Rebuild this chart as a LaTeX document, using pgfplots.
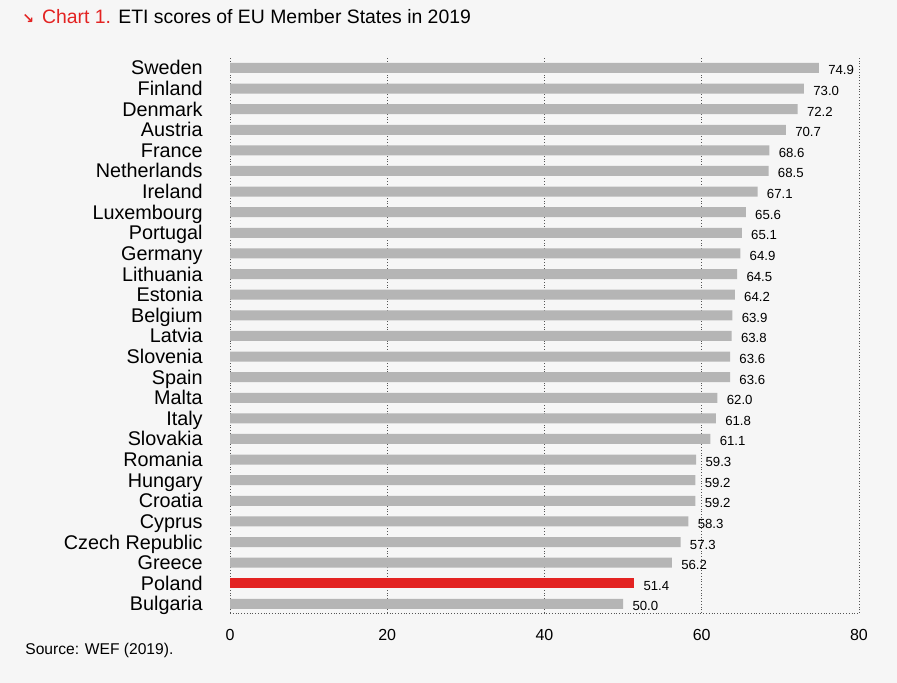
\documentclass[border=0pt]{standalone}
\usepackage{pgfplots}
\pgfplotsset{compat=1.18}
\usepackage{fontspec}
\setmainfont{Liberation Sans}
\newfontfamily\dejavu{DejaVu Sans}
\definecolor{bg}{HTML}{F6F6F6}
\definecolor{bargray}{HTML}{B5B5B5}
\definecolor{barred}{HTML}{E32322}
\definecolor{gridc}{HTML}{555555}
\begin{document}
\begin{tikzpicture}
\fill[bg] (0,0) rectangle (448.5pt,341.5pt);
\node[anchor=base west, inner sep=0, font=\fontsize{9.7}{11}\selectfont] at (11pt,329.5pt)
  {\textcolor{barred}{{\dejavu\bfseries\fontsize{7}{8}\selectfont ↘}\hspace{4pt}Chart 1.} ETI scores of EU Member States in 2019};
\node[anchor=base west, inner sep=0, font=\fontsize{7.8}{9}\selectfont] at (12.5pt,14pt) {Source: WEF (2019).};
\begin{axis}[
  at={(115pt,35pt)}, anchor=south west,
  scale only axis, width=314.5pt, height=278pt,
  xbar, bar width=5pt, bar shift=0pt,
  xmin=0, xmax=80, ymin=-0.44, ymax=26.53,
  xtick={0,20,40,60,80},
  ytick={0,...,26},
  yticklabels={Bulgaria,Poland,Greece,Czech Republic,Cyprus,Croatia,Hungary,Romania,Slovakia,Italy,Malta,Spain,Slovenia,Latvia,Belgium,Estonia,Lithuania,Germany,Portugal,Luxembourg,Ireland,Netherlands,France,Austria,Denmark,Finland,Sweden},
  major tick length=0pt,
  axis x line*=bottom, axis y line*=left,
  axis line style={gridc, densely dotted, thin},
  xmajorgrids, major grid style={gridc, densely dotted, thin},
  /pgf/number format/assume math mode=true,
  xticklabel style={font=\fontsize{8}{9}\selectfont, anchor=center, inner sep=0pt, yshift=-11pt},
  yticklabel style={font=\fontsize{9.9}{11}\selectfont, anchor=east, inner sep=0pt, xshift=-13.5pt, text height=7pt, text depth=0pt},
  nodes near coords,
  nodes near coords style={font=\fontsize{6.6}{7}\selectfont, anchor=west, inner sep=0pt, xshift=4.5pt, yshift=-1pt, text height=5pt, text depth=0pt,
    /pgf/number format/.cd, fixed, fixed zerofill, precision=1, assume math mode=true},
  clip=false,
]
\addplot[fill=bargray, draw=none] coordinates {
(50.0,0) (56.2,2) (57.3,3) (58.3,4) (59.2,5) (59.2,6) (59.3,7) (61.1,8) (61.8,9) (62.0,10) (63.6,11) (63.6,12) (63.8,13) (63.9,14) (64.2,15) (64.5,16) (64.9,17) (65.1,18) (65.6,19) (67.1,20) (68.5,21) (68.6,22) (70.7,23) (72.2,24) (73.0,25) (74.9,26)
};
\addplot[fill=barred, draw=none] coordinates {(51.4,1)};
\end{axis}
\end{tikzpicture}
\end{document}
